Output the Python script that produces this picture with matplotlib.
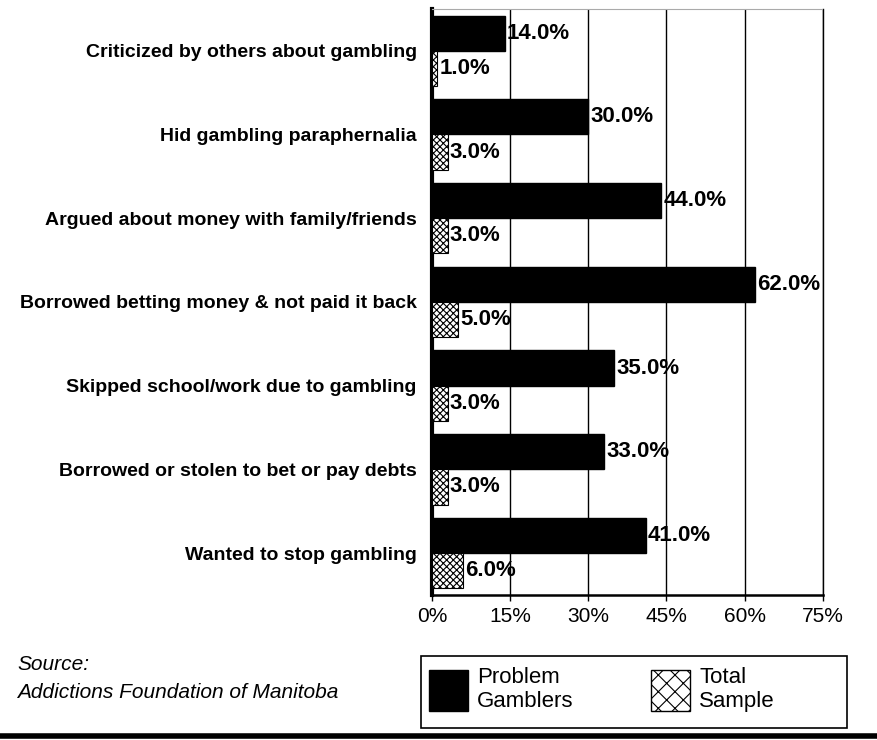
import numpy as np
import matplotlib.pyplot as plt
from matplotlib.patches import Patch, Rectangle
from matplotlib.lines import Line2D

plt.rcParams['font.family'] = ['Liberation Sans', 'DejaVu Sans']
plt.rcParams['hatch.linewidth'] = 0.8

categories = [
    "Criticized by others about gambling",
    "Hid gambling paraphernalia",
    "Argued about money with family/friends",
    "Borrowed betting money & not paid it back",
    "Skipped school/work due to gambling",
    "Borrowed or stolen to bet or pay debts",
    "Wanted to stop gambling",
]
problem_gamblers = [14.0, 30.0, 44.0, 62.0, 35.0, 33.0, 41.0]
total_sample = [1.0, 3.0, 3.0, 5.0, 3.0, 3.0, 6.0]
xticks = [0, 15, 30, 45, 60, 75]

W, H = 878, 740
fig = plt.figure(figsize=(W / 100, H / 100), dpi=100)
ax = fig.add_axes([0.492, 0.196, 0.445, 0.792])

y = np.arange(len(categories))
h = 0.42
ax.barh(y - h / 2, problem_gamblers, height=h, color='black', edgecolor='black', zorder=3)
ax.barh(y + h / 2, total_sample, height=h, color='white', edgecolor='black',
        hatch='xxxxx', linewidth=0.8, zorder=3)

# value labels just right of each bar
for yi, v in zip(y, problem_gamblers):
    ax.text(v + 0.4, yi - h / 2, f"{v:.1f}%", va='center', ha='left',
            fontsize=16, fontweight='bold', zorder=4)
for yi, v in zip(y, total_sample):
    ax.text(v + 0.4, yi + h / 2, f"{v:.1f}%", va='center', ha='left',
            fontsize=16, fontweight='bold', zorder=4)

ax.set_xlim(0, 75)
ax.set_ylim(len(categories) - 0.5, -0.5)
ax.set_xticks(xticks)
ax.set_xticklabels([f"{t}%" for t in xticks], fontsize=15)
ax.set_yticks(y)
ax.set_yticklabels(categories, fontsize=14, fontweight='bold')
ax.tick_params(axis='y', length=0, pad=11)
ax.tick_params(axis='x', length=4, width=1, pad=5)

ax.grid(axis='x', color='black', linewidth=1, zorder=0)
ax.spines['left'].set_linewidth(3)
ax.spines['bottom'].set_linewidth(1.8)
ax.spines['right'].set_linewidth(1)
ax.spines['top'].set_color('#aaaaaa')
ax.spines['top'].set_linewidth(0.8)
ax.spines['top'].set_linestyle((0, (3, 1)))

# legend: boxed strip under the plot
fig.add_artist(Rectangle((421 / W, 1 - 728 / H), (847 - 421) / W, 72 / H,
                         transform=fig.transFigure, facecolor='white',
                         edgecolor='black', linewidth=1.2))
handles = [
    Patch(facecolor='black', edgecolor='black'),
    Patch(facecolor='white', edgecolor='black', hatch='xx'),
]
fig.legend(handles, ["Problem\nGamblers", "Total\nSample"], ncol=2,
           loc='upper left', bbox_to_anchor=(429 / W, 1 - 667 / H),
           fontsize=16, frameon=False, handlelength=1.76, handleheight=2.45,
           handletextpad=0.4, borderaxespad=0, borderpad=0, labelspacing=0,
           columnspacing=3.5)

fig.text(17 / W, 1 - 665 / H, "Source:", fontsize=15, style='italic', va='center')
fig.text(17 / W, 1 - 693 / H, "Addictions Foundation of Manitoba", fontsize=15,
         style='italic', va='center')

fig.add_artist(Line2D([0, 1], [0.005, 0.005], color='black', linewidth=4,
                      transform=fig.transFigure))

fig.savefig('out.png', dpi=100, facecolor='white')
